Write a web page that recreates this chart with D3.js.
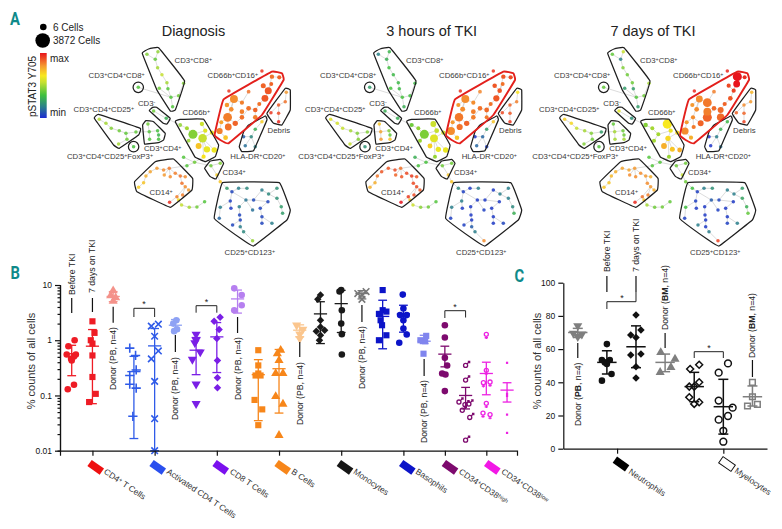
<!DOCTYPE html>
<html><head><meta charset="utf-8">
<script src="https://cdn.jsdelivr.net/npm/d3@7"></script>
<style>
html,body{margin:0;padding:0;background:#fff}
svg{display:block;font-family:"Liberation Sans",Arial,sans-serif}
</style></head><body>
<svg id="c" width="782" height="529"></svg>
<script>
// ---------- Panel A data: SPADE trees ----------
// rows: layoutX, layoutY, parent, pSTAT3 (Diagnosis, 3h, 7d), optional cells (Diagnosis, 3h, 7d)
const panelTitles = ["Diagnosis","3 hours of TKI","7 days of TKI"];
const nodesCD8 = [[355,163,-1,.45,.18,.4],[380,178,0,.4,.3,.18],[388,155,1,.47,.32,.55],[387,203,1,.5,.35,.45],[400,224,3,.55,.33,.42],[415,248,4,.5,.33,.42],[418,266,5,.38,.33,.25],[427,292,6,.38,.36,.38],[392,265,7,.42,.36,.25],[450,287,7,.42,.35,.42],[465,250,9,.45,.33,.5],[432,320,7,.38,.3,.25]];
const nodesTriple = [[329,262,-1,.38,.25,.4]];
const nodesCD3neg = [[375,333,-1,.42,.3,.6],[413,355,0,.3,.3,.22]];
const nodesCD25 = [[212,358,-1,.52,.6,.7],[232,370,0,.5,.58,.68],[248,385,1,.45,.55,.55],[272,392,2,.42,.5,.5],[292,400,3,.4,.45,.45],[322,396,4,.4,.45,.25],[295,418,4,.42,.45,.42],[270,432,6,.5,.55,.45]];
const nodesFox = [[315,440,-1,.36,.22,.38]];
const nodesCD4 = [[358,372,-1,.42,.72,.4],[362,395,0,.38,.78,.5],[387,392,1,.36,.45,.42],[363,418,1,.38,.8,.5],[390,405,2,.32,.4,.42],[390,418,4,.36,.72,.5]];
const nodesCD66 = [
[455,375,-1,.47,.42,.45,30,60,80],[520,372,5,.56,.56,.65,70,280,1300],[475,385,0,.5,.47,.5,40,40,40],[493,403,2,.45,.44,.5,1200,1200,40],[522,415,5,.55,.6,.68,1000,800,200],[530,392,3,.6,.55,.62,70,120,70],[550,398,4,.62,.58,.68,60,60,60],[510,438,4,.72,.7,.76,300,140,280],[535,448,4,.62,.62,.72,400,200,150],[557,450,4,.63,.62,.76,220,200,120],[480,422,3,.48,.48,.5,30,40,50],[525,470,4,.66,.48,.48,60,40,50]];
const nodesCD16 = [
[573,393,-1,.84,.82,.82,350,800,600],[578,367,0,.78,.8,.8,50,50,50],[597,352,1,.84,.85,.82,1100,1000,60],[599,381,2,.86,.86,.85,500,350,60],[591,413,0,.72,.72,.76,120,90,60],[616,297,2,.82,.82,.82,800,800,500],[595,315,5,.8,.8,.8,90,60,60],[608,328,5,.82,.82,.82,100,140,110],[640,308,5,.84,.82,.85,60,60,1100],[660,275,8,.86,.83,.84,30,30,30],[620,370,2,.88,.88,.88,200,200,300],[640,352,10,.86,.84,.88,100,100,1200],[640,335,11,.84,.84,.84,100,120,800],[660,325,11,.86,.86,.87,120,100,100],[680,330,13,.88,.87,.87,100,120,300],[692,312,14,.86,.86,.88,50,50,60],[680,352,14,.84,.85,.87,100,40,700],[709,295,15,.9,.9,.9,500,350,100],[719,272,17,.9,.9,.93,550,100,60],[704,257,18,.88,.9,.92,150,90,60],[730,230,18,.86,.9,1,80,80,1200],[752,232,20,.88,.92,.96,60,60,40],[728,252,18,.88,.86,1,40,40,500],[601,273,-1,.95,.95,.97],[700,213,-1,.95,.95,.97]];
const nodesDebris = [[773,277,-1,.8,.66,.75],[770,305,0,.86,.84,.8],[750,315,1,.9,.88,.82],[727,338,2,.95,.92,.88],[750,340,2,.92,.9,.88],[750,365,4,.97,.95,.93]];
const nodesHLA = [[700,365,-1,.7,.72,.33],[680,388,0,.3,.25,.3],[668,410,1,.2,.12,.17],[645,410,2,.1,.02,.02],[650,437,2,.14,.12,.02],[680,440,2,.18,.04,.15]];
const nodesCD34 = [[547,497,-1,.42,.42,.42],[575,490,0,.45,.42,.42],[565,525,0,.7,.72,.55]];
const nodesCD14 = [[422,505,-1,.85,.86,.8],[405,510,0,.82,.92,.78],[385,505,1,.8,.9,.78],[365,515,2,.78,.9,.76],[352,528,3,.76,.85,.74],[345,548,4,.72,.76,.72],[330,562,5,.7,.76,.72],[407,525,0,.8,.88,.82],[425,530,0,.82,.9,.82],[440,520,0,.84,.92,.82],[455,528,9,.86,.94,.8],[470,530,10,.82,.9,.76],[460,550,10,.86,.92,.82],[470,560,12,.82,.92,.8],[480,570,13,.8,.9,.76],[445,590,13,.84,.94,.86],[462,585,13,.84,.92,.84],[450,600,15,.66,.72,.72],[423,607,15,.96,1,.97]];
const nodesTail = [[459,615,-1,.55,.56,.5],[482,622,0,.5,.46,.42],[505,621,1,.42,.42,.42],[528,605,2,.38,.38,.4]];
const nodesBridge = [[465,472,-1,.38,.3,.38],[498,487,0,.42,.36,.38],[475,497,1,.38,.36,.38],[575,545,-1,.72,.72,.42]];
const nodesCD123 = [[595,565,-1,.25,.2,.35],[610,575,0,.05,.04,.04],[630,565,1,.17,.03,.17],[655,565,2,.2,.17,.22],[605,603,1,.04,.17,.04],[607,625,4,.03,.03,.03],[575,622,4,.17,.17,.35],[572,655,6,.12,.04,.04],[652,600,1,.15,.03,.1],[632,620,8,.17,.03,.03],[633,645,9,.05,.03,.03],[635,660,10,.05,.03,.03],[612,675,11,.05,.04,.17],[635,680,11,.17,.1,.03],[645,695,13,.2,.17,.17],[672,722,14,.48,.82,.93],[675,600,8,.06,.03,.05],[700,570,16,.17,.03,.17],[720,582,17,.2,.17,.17],[745,565,18,.22,.17,.25],[718,605,16,.05,.03,.03],[695,625,20,.05,.03,.03],[700,650,21,.05,.03,.03],[700,670,22,.05,.03,.04],[730,670,22,.17,.05,.17],[672,630,8,.14,.04,.04],[745,595,18,.22,.17,.27],[758,620,26,.25,.2,.3],[762,640,27,.25,.3,.4]];
const clusterNames = ["cd8","triple","cd3neg","cd25","fox","cd4","cd66","cd16","debris","hla","cd34","cd14","tail","bridge","cd123"];
const clusterRows = [nodesCD8,nodesTriple,nodesCD3neg,nodesCD25,nodesFox,nodesCD4,nodesCD66,nodesCD16,nodesDebris,nodesHLA,nodesCD34,nodesCD14,nodesTail,nodesBridge,nodesCD123];
const crossLinks = [["triple",0,"cd8",7],["fox",0,"cd25",6],["cd25",5,"cd4",1],["cd3neg",1,"cd66",0],["cd66",11,"bridge",1],["bridge",2,"cd14",0],["bridge",1,"cd34",0],["cd34",2,"bridge",3],["bridge",3,"cd123",0],["cd14",17,"tail",0],["cd66",6,"cd16",0],["hla",0,"debris",3]];
// gates drawn around populations, in tree layout units
const gateCD8 = [[341,160],[360,147],[390,143],[468,243],[440,330],[425,333],[385,270]];
const gateCD3neg = [[362,332],[372,322],[384,322],[425,355],[415,372],[404,370]];
const gateCD25 = [[197,355],[210,343],[335,385],[330,405],[272,445],[255,435]];
const gateCD4 = [[342,375],[352,362],[375,365],[410,400],[405,420],[392,427],[348,432]];
const gateCD66 = [[440,365],[455,358],[525,358],[570,435],[560,470],[530,485],[500,472],[490,455]];
const gateCD16 = [[558,405],[585,298],[730,215],[760,220],[765,240],[700,345],[600,430],[575,420]];
const gateDebris = [[715,340],[770,265],[785,270],[785,330],[760,375],[735,370]];
const gateHLA = [[632,440],[645,395],[660,375],[710,348],[715,360],[675,452],[640,455]];
const gateCD34 = [[528,505],[545,483],[575,478],[585,490],[562,537],[545,530]];
const gateCD14 = [[318,545],[380,485],[435,477],[492,535],[490,570],[425,622],[325,575]];
const gateCD123 = [[557,655],[582,548],[752,548],[785,630],[775,660],[675,738],[640,718]];
const blackGates = [gateCD8,gateCD3neg,gateCD25,gateCD4,gateCD66,gateDebris,gateHLA,gateCD34,gateCD14,gateCD123];
const ringGates = [[329,262],[315,440]];
const treeLabelText = ["CD3^+CD8^+","CD3^+CD4^+CD8^+","CD3^-","CD3^+CD4^+CD25^+","CD3^+CD4^+CD25^+FoxP3^+","CD3^+CD4^+","CD66b^+","CD66b^+CD16^+","Debris","HLA-DR^+CD20^+","CD34^+","CD14^+","CD25^+CD123^+"];
const treeLabelX = [438,180,328,135,115,346,462,537,717,605,582,363,588];
const treeLabelY = [180,227,310,328,470,446,337,227,392,470,517,577,757];

// ---------- Panel B data ----------
const bValues = [
[1,.78,.55,.55,.51,.46,.43,.156,.13],[2.2,1.36,1,.87,.53,.216,.107,.076],[7.9,6.4,5.9,5.1],
[.72,.53,.29,.23,.16,.136,.042],[1.95,1.8,1.18,.64,.46,.18,.038,.01],[2.3,2,1.58,1.46],
[1.28,1,.9,.61,.45,.16,.071],[2.6,2.2,1.56,1.07,.43,.21,.138],[8.7,6.6,4.3,3.5],
[.66,.35,.25,.23,.23,.083,.056,.029],[.66,.57,.43,.25,.25,.096,.07,.019],[1.87,1.58,1.29,1.07],
[6.6,5.5,2.3,1.74,1.52,1.45,1.23,1],[8.1,7.6,3.5,2,1.29,.55],[7.6,7,6.6,5.5],
[8.1,3.5,3.3,3,2.3,1.87,1.23,1],[6.7,3.76,2.85,2.85,2.3,1.63,1.27,.9],[1.2,1,.96,.57],
[1.87,1.12,.48,.35,.25,.24,.12],[.35,.19,.076,.07,.068,.054,.04,.0155],[1.28,.285,.175,.17,.072,.048,.045],[.39,.107,.098,.045,.021]];
const bJitter = [
[.14,-.16,-.24,.2,.11,-.03,0,.11,-.19],[0,.1,-.08,0,0,0,.16,-.16],[0,-.12,.12,0],
[-.2,.08,.11,-.2,-.2,.11,-.05],[.18,-.16,0,.18,-.16,0,0,0],[.05,-.1,.08,-.06],
[0,0,-.06,.2,-.18,0,0],[.16,-.13,.11,0,.03,.03,.03],[-.16,.2,.2,-.16],
[0,0,0,-.13,.11,-.18,.19,0],[.08,-.08,0,-.16,.19,-.16,.19,0],[-.15,.15,0,0],
[0,-.13,0,0,.2,-.2,0,-.05],[0,-.08,.03,0,.03,.03],[.2,-.2,0,0],
[0,0,.18,-.18,-.1,-.03,.18,-.18],[-.03,0,-.16,.16,0,0,.16,-.2],[.1,-.18,.05,-.03],
[0,0,0,.11,-.13,.03,0],[0,0,-.32,.16,-.03,-.16,.2,0],[0,0,.18,-.14,0,-.16,.18],[0,0,0,0,0]];
const bMean = [.57,.78,6.2,.27,.79,1.87,.66,1.15,5.6,.238,.305,1.52,3,4.6,7,2.7,3,.96,.56,.1,.25,.125];
const bLow = [.228,.071,5,.0166,.01,1.48,.238,.26,3.1,.035,.048,1.15,.87,1.38,5.6,.7,1.4,.87,.33,.057,.103,.076];
const bHigh = [.81,1.56,7.6,.51,1.63,2.37,1.12,2.09,8.1,.445,.68,1.9,4.98,8,7.9,5.3,4.3,1.23,.78,.14,.4,.17];
const bColours = ["#ee1c25","#ee1c25","#f4928a","#2f5be8","#2f5be8","#8ea2f4","#7a1fe6","#7a1fe6","#b67ff0","#f7861a","#f7861a","#fbc68e","#1a1a1a","#1a1a1a","#777777","#0c14c8","#0c14c8","#8085ee","#7d0a6e","#7d0a6e","#ec22e2","#ec22e2"];
const bSymbols = ["circle","square","triangle","plus","times","circle","down","diamond","circle","square","triangle","down","diamond","circle","times","square","circle","square","circle","male","female","dot"];
const bTicks = [1,4,7,10,13,16,18,20];
const bCategories = ["CD4^+ T Cells","Activated CD4 T Cells","CD8 T Cells","B Cells","Monocytes","Basophils","CD34^+CD38^high","CD34^+CD38^low"];
const bCatColours = ["#ee1010","#2a4fee","#7a10ee","#f7861a","#161616","#0c14c8","#7d0a6e","#f218e6"];
const yTicksB = [.01,.1,1,10];
const yMinorB = [.02,.03,.04,.05,.06,.07,.08,.09,.2,.3,.4,.5,.6,.7,.8,.9,2,3,4,5,6,7,8,9];

// ---------- Panel C data ----------
const cValues = [[74,69.5,69,67.5],[63,53.4,53.4,52,51,45,41],[80.5,71.5,68.5,67,57,56.4,49.4,42.6],[58,54,49,46],[50.6,48,40,37.4,37.4,31,28,27],[51.4,45.8,29,24.7,19.7,17.5,10.8,4.2],[40,31.3,26.7,25.7]];
const cJitter = [[0,-.15,.14,0],[0,-.17,.1,-.07,0,.16,-.17],[0,.17,-.18,0,.17,-.18,0,0],[-.15,.34,.2,-.17],[.17,-.14,.17,0,-.17,-.17,.17,0],[.16,-.16,-.16,.32,.16,-.16,0,0],[0,0,.17,-.17]];
const cMean = [70,52,61.4,52,37.4,25.3,31.3];
const cLow = [67,45,48.8,46.4,28.3,8.8,25.7];
const cHigh = [72.5,59,74,57,46,41.8,37.8];
const cColours = ["#7f7f7f","#111111","#111111","#7f7f7f","#111111","#111111","#7f7f7f"];
const cSymbols = ["down","circle","diamond","triangle","openDiamond","openCircle","openSquare"];
const cTicks = [1.35,5];
const cCategories = ["Neutrophils","Myelocytes"];
const yTicksC = [0,20,40,60,80,100];

// ---------- Drawing ----------
const svg = d3.select("#c");
function rich(sel, str){
  // "^x" superscripts, "*x*" bold
  str.split(/(\^(?:\+|-|high|low)|\*[^*]+\*)/).filter(s=>s).forEach(s=>{
    if(s[0]==="^") sel.append("tspan").attr("baseline-shift","32%").attr("font-size","68%").text(s.slice(1));
    else if(s[0]==="*") sel.append("tspan").attr("font-weight","bold").text(s.slice(1,-1));
    else sel.append("tspan").text(s);
  });
}
const colour = d3.scaleLinear().domain([0,.17,.35,.55,.65,.8,1])
  .range(["#1c2bd2","#2a7f8c","#3fc03f","#c6e030","#f8e81e","#f59a30","#e8141c"]);
const radius = d3.scaleSqrt().domain([0,3872]).range([1.4,7]);
const layoutY = d3.scaleLinear().domain([0,780]).range([0,260]);
const panelOffsets = [-231.4,0,234];
const gateLine = d3.line().curve(d3.curveCardinalClosed.tension(.82));

panelTitles.forEach((title,p)=>{
  const lx = d3.scaleLinear().domain([0,786]).range([260+panelOffsets[p],522+panelOffsets[p]]);
  const g = svg.append("g");
  const byId = {};
  clusterRows.forEach((rows,c)=>rows.forEach((r,i)=>{
    byId[clusterNames[c]+":"+i] = {x:lx(r[0]),y:layoutY(r[1]),pv:r[3+p],cells:r.length>6?r[6+p]:16,parent:r[2]<0?null:clusterNames[c]+":"+r[2]};
  }));
  const nodes = Object.values(byId);
  const links = nodes.filter(n=>n.parent).map(n=>[n,byId[n.parent]])
    .concat(crossLinks.map(l=>[byId[l[0]+":"+l[1]],byId[l[2]+":"+l[3]]]));
  g.append("g").selectAll("line").data(links).join("line")
    .attr("x1",d=>d[0].x).attr("y1",d=>d[0].y).attr("x2",d=>d[1].x).attr("y2",d=>d[1].y)
    .attr("stroke","#c4c4c4").attr("stroke-width",.6);
  g.append("g").selectAll("circle").data(nodes).join("circle")
    .attr("cx",d=>d.x).attr("cy",d=>d.y).attr("r",d=>radius(d.cells))
    .attr("fill",d=>colour(d.pv)).attr("fill-opacity",d=>d.cells<40?.85:1);
  const pts = a=>a.map(q=>[lx(q[0]),layoutY(q[1])]);
  g.append("g").selectAll("path").data(blackGates).join("path")
    .attr("d",d=>gateLine(pts(d))).attr("fill","none").attr("stroke","#1e1e1e").attr("stroke-width",1.25);
  g.append("path").attr("d",gateLine(pts(gateCD16))).attr("fill","none").attr("stroke","#e3201c").attr("stroke-width",1.9);
  g.append("g").selectAll("circle").data(ringGates).join("circle")
    .attr("cx",d=>lx(d[0])).attr("cy",d=>layoutY(d[1])).attr("r",5.2)
    .attr("fill","none").attr("stroke","#1e1e1e").attr("stroke-width",1.25);
  treeLabelText.forEach((t,i)=>{
    g.append("text").attr("x",lx(treeLabelX[i])).attr("y",layoutY(treeLabelY[i])+2.8)
      .attr("font-size",7.8).attr("fill","#3a3a3a").call(rich,t);
  });
  svg.append("text").attr("x",[193.5,431.7,653][p]).attr("y",36).attr("text-anchor","middle")
    .attr("font-size",14.5).attr("fill","#222").text(title);
});

// Panel A legend
const legendCells = ["6 Cells","3872 Cells"];
const legendY = [27,40.5], legendR = [3.3,7.3], legendCX = [43.3,42.7];
legendCells.forEach((t,i)=>{
  svg.append("circle").attr("cx",legendCX[i]).attr("cy",legendY[i]).attr("r",legendR[i]).attr("fill","#000");
  svg.append("text").attr("x",53).attr("y",legendY[i]+3.5).attr("font-size",10).attr("fill","#222").text(t);
});
const defs = svg.append("defs");
const grad = defs.append("linearGradient").attr("id","pstat").attr("x1",0).attr("y1",1).attr("x2",0).attr("y2",0);
colour.domain().forEach(d=>grad.append("stop").attr("offset",d).attr("stop-color",colour(d)));
svg.append("rect").attr("x",40).attr("y",53).attr("width",6.7).attr("height",65).attr("fill","url(#pstat)");
svg.append("text").attr("x",50).attr("y",62).attr("font-size",10).attr("fill","#222").text("max");
svg.append("text").attr("x",50).attr("y",115.5).attr("font-size",10).attr("fill","#222").text("min");
svg.append("text").attr("transform","translate(35.5,86.5) rotate(-90)").attr("text-anchor","middle")
  .attr("font-size",10).attr("fill","#222").text("pSTAT3 Y705");

// Panel letters
[["A",10,25],["B",10.5,279],["C",514.5,282]].forEach(d=>{
  svg.append("text").attr("transform",`translate(${d[1]},${d[2]}) scale(.82,1)`).attr("font-family","Roboto").attr("font-weight","bold")
    .attr("font-size",18).attr("fill","#0f8a8a").text(d[0]);
});

// Symbols
function ringSym(kind){
  return {draw(ctx,size){
    const r=Math.sqrt(size/Math.PI);
    ctx.moveTo(r,0); ctx.arc(0,0,r,0,2*Math.PI);
    if(kind==="male"){
      const a=r*.7,b=r*2; ctx.moveTo(a,-a); ctx.lineTo(b,-b);
      ctx.moveTo(b-r*.9,-b); ctx.lineTo(b,-b); ctx.lineTo(b,-b+r*.9);
    } else {
      ctx.moveTo(0,r); ctx.lineTo(0,r*2.3); ctx.moveTo(-r*.8,r*1.7); ctx.lineTo(r*.8,r*1.7);
    }
  }};
}
const rhombus = {draw(ctx,size){const h=Math.sqrt(size);ctx.moveTo(0,-h);ctx.lineTo(h,0);ctx.lineTo(0,h);ctx.lineTo(-h,0);ctx.closePath();}};
function symbolAttrs(sel,name,col){
  const map={circle:[d3.symbolCircle,34,1],square:[d3.symbolSquare,38,1],triangle:[d3.symbolTriangle,36,1],down:[d3.symbolTriangle,36,1],
    diamond:[rhombus,14,1],plus:[d3.symbolPlus,30,0],times:[d3.symbolTimes,30,0],dot:[d3.symbolSquare,5,1],
    male:[ringSym("male"),13,0],female:[ringSym("female"),13,0],openCircle:[d3.symbolCircle,36,0],openDiamond:[rhombus,12,0],openSquare:[d3.symbolSquare,32,0]};
  const m=map[name];
  sel.attr("d",d3.symbol().type(m[0]).size(m[1]))
    .attr("fill",m[2]?col:"none").attr("stroke",m[2]?"none":col)
    .attr("stroke-width",name.startsWith("open")?1.5:name==="times"||name==="plus"?1.6:1.3);
}
function drawColumns(g,x,y,values,jitter,mean,lo,hi,colours,symbols,meanHalf,capHalf,sw){
  values.forEach((vals,i)=>{
    const c=colours[i], col=g.append("g");
    col.selectAll("path").data(vals).join("path")
      .attr("transform",(d,k)=>`translate(${x(i+jitter[i][k])},${y(d)})${symbols[i]==="down"?" rotate(180)":""}`)
      .call(symbolAttrs,symbols[i],c);
    const cx=x(i), seg=(x1,y1,x2,y2)=>col.append("line").attr("x1",x1).attr("y1",y1).attr("x2",x2).attr("y2",y2).attr("stroke",c).attr("stroke-width",sw);
    seg(cx,y(lo[i]),cx,y(hi[i]));
    seg(cx-meanHalf,y(mean[i]),cx+meanHalf,y(mean[i]));
    seg(cx-capHalf,y(lo[i]),cx+capHalf,y(lo[i]));
    seg(cx-capHalf,y(hi[i]),cx+capHalf,y(hi[i]));
  });
}
function styleAxis(s,size){
  s.selectAll("path,line").attr("stroke","#111").attr("stroke-width",1.2);
  s.selectAll("text").attr("font-size",size).attr("fill","#111").attr("font-family","Liberation Sans");
}
function tag(x,lineTop,lineBottom,textBottom,str){
  svg.append("line").attr("x1",x).attr("x2",x).attr("y1",lineTop).attr("y2",lineBottom).attr("stroke","#111").attr("stroke-width",1.2);
  svg.append("text").attr("transform",`translate(${x},${textBottom}) rotate(-90)`).attr("dy",".35em")
    .attr("font-size",8.7).attr("fill","#222").call(rich,str);
}
function bracket(x1,x2,top,endL,endR,starX){
  svg.append("path").attr("d",`M${x1},${endL}V${top}H${x2}V${endR}`).attr("fill","none").attr("stroke","#222").attr("stroke-width",1);
  svg.append("text").attr("x",starX).attr("y",top-1).attr("text-anchor","middle").attr("font-size",9).attr("fill","#222").text("*");
}
function category(cx,cy,lx,ly,str,fill,open){
  svg.append("rect").attr("x",-7.5).attr("y",-3.8).attr("width",15).attr("height",7.6)
    .attr("transform",`translate(${cx},${cy}) rotate(35)`)
    .attr("fill",open?"#fff":fill).attr("stroke",open?"#111":"none").attr("stroke-width",1);
  svg.append("text").attr("transform",`translate(${lx},${ly}) rotate(34)`).attr("font-size",8.4).attr("fill","#333").call(rich,str);
}

// Panel B
const xB = d3.scaleLinear().domain([-.565,21.48]).range([60,517]);
const yB = d3.scaleLog().domain([.01,10]).range([450.7,285]);
drawColumns(svg.append("g"),xB,yB,bValues,bJitter,bMean,bLow,bHigh,bColours,bSymbols,6.6,4.4,1.3);
svg.append("g").attr("transform","translate(60,0)").call(d3.axisLeft(yB).tickValues(yMinorB).tickSize(2.5).tickFormat("")).call(styleAxis,8);
svg.append("g").attr("transform","translate(60,0)").call(d3.axisLeft(yB).tickValues(yTicksB).tickSize(5).tickSizeOuter(0).tickFormat(d=>d)).call(styleAxis,8.5);
svg.append("g").attr("transform","translate(0,450.7)").call(d3.axisBottom(xB).tickValues(bTicks).tickSizeOuter(0).tickSize(5).tickFormat("")).call(styleAxis,8);
svg.append("text").attr("transform","translate(35,361) rotate(-90)").attr("text-anchor","middle").attr("font-size",11).attr("fill","#333").text("% counts of all cells");
tag(xB(0),298,313,295,"Before TKI");
tag(xB(1),298,312,293,"7 days on TKI");
tag(xB(2),306.7,322.7,390,"Donor (PB, n=4)");
tag(xB(5),335,352,420,"Donor (PB, n=4)");
tag(xB(8),317,333,400,"Donor (PB, n=4)");
tag(xB(11),342,357,425,"Donor (PB, n=4)");
tag(xB(14),305,322,389,"Donor (PB, n=4)");
tag(xB(17),359,376,443,"Donor (PB, n=4)");
bracket(xB(3),xB(4),308.3,317,317,144);
bracket(xB(6),xB(7),305.7,312.7,312.7,206.5);
bracket(xB(18),xB(19),310.7,318,317.5,455);
const bSwatchX=[95.7,157.7,220.7,282.7,345,407.3,450,492.3], bLabelX=[103.3,166,229.3,290.7,352.7,415,458.3,500.7];
bCategories.forEach((t,i)=>category(bSwatchX[i],467.3,bLabelX[i],473,t,bCatColours[i],false));

// Panel C
const xC = d3.scaleLinear().domain([-.497,6.5]).range([563.3,767]);
const yC = d3.scaleLinear().domain([0,100]).range([448.7,282.7]);
drawColumns(svg.append("g"),xC,yC,cValues,cJitter,cMean,cLow,cHigh,cColours,cSymbols,9.7,5,1.5);
svg.append("g").attr("transform","translate(563.3,0)").call(d3.axisLeft(yC).tickValues(yTicksC).tickSize(5).tickSizeOuter(0)).call(styleAxis,8.5);
svg.append("g").attr("transform","translate(0,448.7)").call(d3.axisBottom(xC).tickValues(cTicks).tickSize(5).tickSizeOuter(0).tickFormat("")).call(styleAxis,8);
svg.append("text").attr("transform","translate(541,361) rotate(-90)").attr("text-anchor","middle").attr("font-size",11).attr("fill","#333").text("% counts of all cells");
tag(xC(1),276,292,272,"Before TKI");
tag(xC(2),276,292,272,"7 days on TKI");
tag(xC(0),343,358,426,"Donor (*PB*, n=4)");
tag(xC(3),333,348,330,"Donor (*BM*, n=4)");
tag(xC(6),360,377,358,"Donor (*BM*, n=4)");
bracket(xC(1),xC(2),301.7,309,292,622);
bracket(xC(4),xC(5),351.7,358,358,709);
category(621,464,628,473,cCategories[0],"#000",false);
category(727,464,734,472,cCategories[1],"#fff",true);
</script>
</body></html>
